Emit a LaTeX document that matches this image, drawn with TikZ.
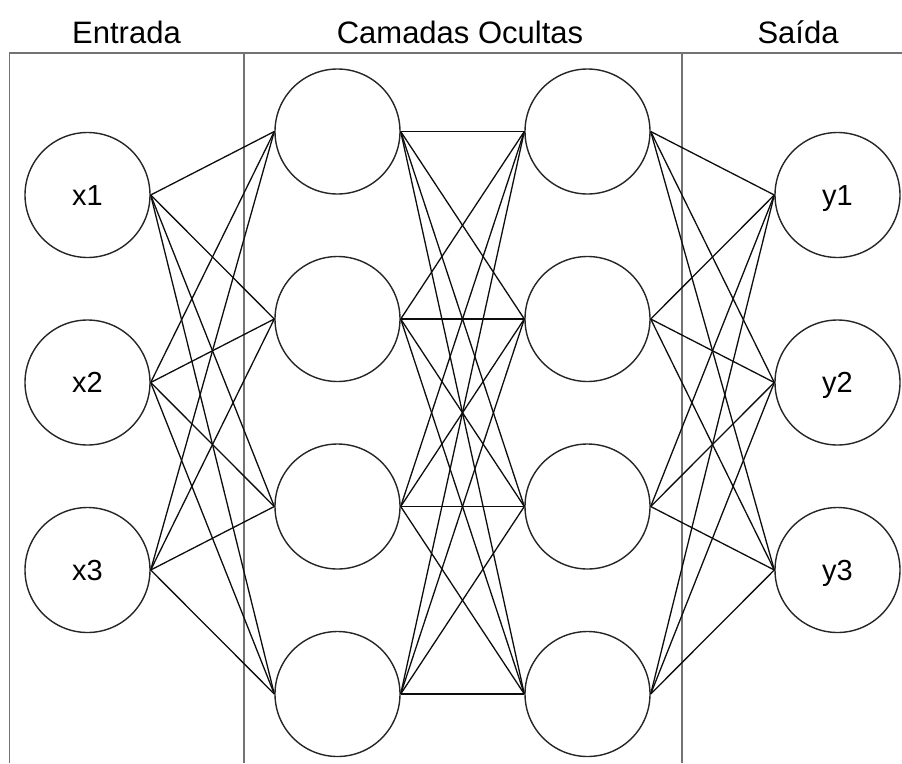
\documentclass[tikz,border=0pt]{standalone}
\usepackage{fontspec}
\setmainfont{Liberation Sans}
\begin{document}
\begin{tikzpicture}[x=1pt,y=-1pt,
  neuron/.style={circle,draw=black!85,line width=1.4pt,minimum size=125pt,inner sep=0pt,
    text height=20.8pt,text depth=0pt,font=\fontsize{29}{32}\selectfont},
  header/.style={anchor=base,inner sep=0pt,font=\fontsize{31}{34}\selectfont},
  edge/.style={draw=black!95,line width=1.3pt},
  frame/.style={draw=black!55,line width=1.2pt}]
\useasboundingbox (0,0) rectangle (902,763);

% column titles
\node[header] (tin)  at (126.5,43) {Entrada};
\node[header] (thid) at (460,43) {Camadas Ocultas};
\node[header] (tout) at (798,43) {Saída};

% frame lines separating the columns
\coordinate (fl) at (9.3,53);
\coordinate (fr) at (902,53);
\coordinate (fb) at (9.3,763);
\coordinate (s1t) at (244,53);
\coordinate (s1b) at (244,763);
\coordinate (s2t) at (682,53);
\coordinate (s2b) at (682,763);
\draw[frame] (fb) -- (fl) -- (fr);
\draw[frame] (s1t) -- (s1b);
\draw[frame] (s2t) -- (s2b);

% input layer
\node[neuron] (i1) at (87.5,195) {x1};
\node[neuron] (i2) at (87.5,382.5) {x2};
\node[neuron] (i3) at (87.5,570) {x3};

% hidden layers
\foreach \k/\y in {1/131.5,2/319,3/506.5,4/694}{
  \node[neuron] (a\k) at (337.5,\y) {};
  \node[neuron] (b\k) at (587.5,\y) {};
}

% output layer
\node[neuron] (o1) at (837.5,195) {y1};
\node[neuron] (o2) at (837.5,382.5) {y2};
\node[neuron] (o3) at (837.5,570) {y3};

% connections
\foreach \i in {1,2,3}{
  \foreach \j in {1,2,3,4}{
    \draw[edge] (i\i.east) -- (a\j.west);
    \draw[edge] (b\j.east) -- (o\i.west);
  }
}
\foreach \i in {1,2,3,4}{
  \foreach \j in {1,2,3,4}{
    \draw[edge] (a\i.east) -- (b\j.west);
  }
}
\end{tikzpicture}
\end{document}
